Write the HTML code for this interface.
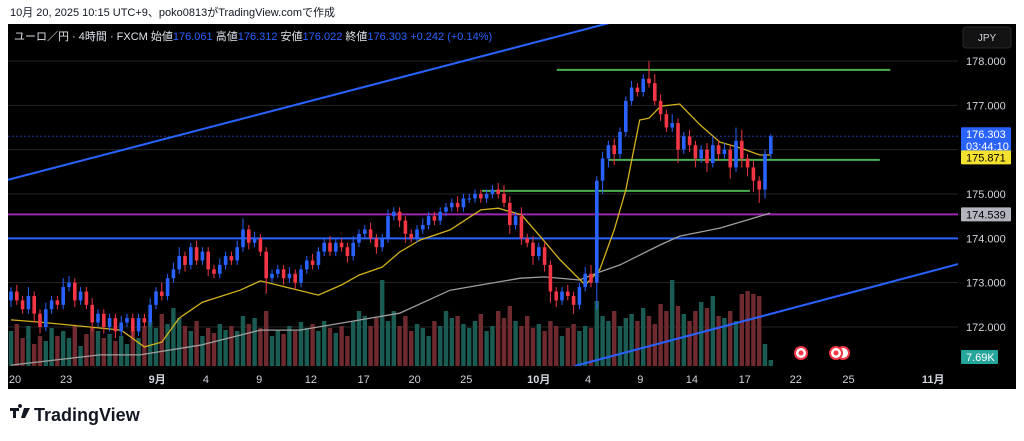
<!DOCTYPE html>
<html><head><meta charset="utf-8">
<style>
html,body{margin:0;padding:0;background:#fff;width:1024px;height:441px;overflow:hidden;font-family:"Liberation Sans","Noto Sans CJK JP",sans-serif}
svg text{font-family:"Liberation Sans","Noto Sans CJK JP",sans-serif}
</style></head><body>
<svg id="chart" width="1024" height="441" xmlns="http://www.w3.org/2000/svg">
<text x="10" y="16" font-size="11" fill="#131722">10月 20, 2025 10:15 UTC+9、poko0813がTradingView.comで作成</text>
<rect x="8" y="24" width="1008" height="365" fill="#000"/>
<g id="grid"></g>
<g id="plot" clip-path="url(#clip)"></g>
<defs><clipPath id="clip"><rect x="8" y="24" width="950" height="342"/></clipPath></defs>
<g>
<text x="14" y="40" font-size="11"><tspan fill="#e0e3eb">ユーロ／円 · 4時間 · FXCM  始値</tspan><tspan fill="#2962ff">176.061</tspan><tspan fill="#e0e3eb">  高値</tspan><tspan fill="#2962ff">176.312</tspan><tspan fill="#e0e3eb">  安値</tspan><tspan fill="#2962ff">176.022</tspan><tspan fill="#e0e3eb">  終値</tspan><tspan fill="#2962ff">176.303  +0.242 (+0.14%)</tspan></text>
</g>
<g><rect x="963" y="27" width="48" height="21" rx="3" fill="#131313" stroke="#2a2a2a"/><text x="987" y="41" font-size="10" fill="#d1d4dc" text-anchor="middle">JPY</text></g>
<g id="axes"></g>
<g>
<circle cx="801" cy="353" r="6" fill="#fff" stroke="#f23645" stroke-width="2"/><circle cx="801" cy="353" r="2.5" fill="#f23645"/>
<circle cx="843" cy="353" r="6" fill="#fff" stroke="#f23645" stroke-width="2"/>
<circle cx="836" cy="353" r="6" fill="#fff" stroke="#f23645" stroke-width="2"/><circle cx="836" cy="353" r="2.5" fill="#f23645"/>
</g>
<g>
<path d="M10 408h9v3h-3v7h-3v-7h-3z M20 408a2 2 0 1 1 0.01 0z M24 408h6l-5 10h-4z" fill="#131722"/>
<text x="34" y="421" font-size="18" font-weight="bold" fill="#131722">TradingView</text>
</g>
</svg>
<script>
const closes=[172.8,172.6,172.4,172.7,172.3,172.0,172.4,172.6,172.5,172.9,173.0,172.6,172.8,172.5,172.1,172.3,172.0,172.2,171.9,172.1,172.2,171.9,172.2,172.1,172.5,172.8,172.7,173.1,173.3,173.6,173.4,173.8,173.5,173.7,173.3,173.2,173.4,173.6,173.5,173.8,174.2,173.9,174.0,173.7,173.1,173.2,173.3,173.1,173.2,173.0,173.3,173.5,173.4,173.7,173.9,173.7,173.9,173.8,173.6,173.9,174.1,174.2,174.0,173.8,174.0,174.5,174.6,174.4,174.1,174.0,174.2,174.3,174.5,174.4,174.6,174.7,174.8,174.7,174.9,174.9,175.0,174.9,175.0,175.1,175.0,174.8,174.3,174.5,174.0,173.9,173.6,173.8,173.4,172.8,172.6,172.8,172.7,172.5,172.9,173.2,173.0,175.3,175.8,176.1,175.9,176.4,177.1,177.4,177.3,177.6,177.5,177.1,176.8,176.5,176.6,176.0,176.3,176.1,175.8,176.0,175.7,176.1,175.9,176.0,175.6,176.2,175.8,175.6,175.3,175.1,175.9,176.3];
const firstOpen=172.6;
const wickUp=[.1,.15,.1,.2,.1,.1,.15,.1,.1,.2,.15,.1,.1,.1,.15,.1,.1,.1,.1,.15,.1,.1,.1,.1,.15,.1,.2,.1,.15,.2,.1,.1,.15,.1,.1,.1,.15,.1,.1,.15,.25,.1,.15,.1,.1,.1,.1,.1,.15,.1,.1,.1,.15,.1,.1,.15,.1,.1,.1,.15,.1,.1,.15,.1,.1,.15,.1,.1,.1,.1,.1,.15,.1,.1,.1,.1,.1,.15,.1,.1,.1,.1,.1,.1,.15,.2,.15,.1,.2,.1,.15,.1,.1,.1,.1,.1,.15,.1,.1,.15,.2,.1,.15,.1,.15,.1,.1,.15,.1,.1,.4,.2,.15,.1,.2,.1,.1,.15,.1,.1,.15,.2,.1,.15,.1,.3,.25,.1,.15,.1,.1,.05];
const wickDn=[.15,.1,.1,.1,.2,.15,.1,.1,.1,.1,.1,.15,.1,.1,.2,.1,.15,.1,.15,.1,.1,.15,.1,.1,.1,.1,.1,.1,.1,.1,.15,.1,.1,.1,.15,.1,.1,.1,.1,.1,.1,.15,.1,.1,.35,.1,.1,.15,.1,.15,.1,.1,.1,.1,.1,.1,.1,.1,.15,.1,.1,.1,.1,.15,.1,.1,.1,.15,.2,.1,.1,.1,.1,.1,.1,.1,.1,.1,.1,.1,.1,.1,.1,.1,.1,.1,.2,.1,.15,.1,.2,.1,.15,.25,.15,.1,.1,.2,.1,.1,.1,.6,.3,.2,.25,.1,.1,.1,.1,.1,.1,.1,.15,.1,.1,.3,.1,.15,.2,.1,.2,.1,.15,.1,.25,.1,.2,.2,.25,.3,.2,.1];
const volumes=[35,42,28,40,22,30,25,38,30,35,28,40,20,32,38,35,28,32,25,30,22,36,28,40,45,38,52,42,58,48,40,35,45,30,38,33,42,36,40,35,50,42,48,38,55,30,36,32,40,35,44,38,42,35,45,38,33,40,30,45,55,50,40,48,86,45,55,40,50,35,42,38,30,45,40,55,48,50,42,38,45,52,35,40,55,48,60,45,40,50,38,42,35,45,40,30,38,42,35,40,38,65,50,45,55,40,48,52,45,58,50,42,62,55,86,60,52,45,55,64,58,70,50,48,55,45,72,75,72,70,22,6];
const maFastIdx=[0,5,12,19,23,26,29,33,39.5,43,48,53,57,60,64,67,70.5,75.7,81,84,88,91,94.7,99,101.5,104,106,108.4,110,112,115.3,118.8,122.2,125.7,129.1,130.9];
const maFastVal=[172.16,172.11,172.02,171.93,171.55,171.66,172.20,172.56,172.83,173.04,172.88,172.72,172.95,173.17,173.35,173.69,173.96,174.19,174.64,174.68,174.53,174.08,173.51,172.95,173.29,174.19,175.09,176.67,176.71,176.98,177.03,176.56,176.17,176.04,175.88,175.88];
const maSlowIdx=[0,15.3,22.2,32.6,43,49.8,62,67,75.7,87.8,92,98,101.5,105,111.9,115.3,122.2,129.1,130.9];
const maSlowVal=[171.14,171.37,171.37,171.59,171.93,171.93,172.20,172.31,172.83,173.10,173.13,173.06,173.24,173.40,173.85,174.05,174.23,174.50,174.57];
const priceTicks=[172,173,174,175,176,177,178];
const priceTickLabels=["172.000","173.000","174.000","175.000","176.000","177.000","178.000"];
const dateTickIdx=[0.7,9.5,25.2,33.6,42.8,51.7,60.8,69.6,78.5,91,99.5,108.5,117.4,126.5,135.3,144.4,159];
const dateTickLabels=["20","23","9月","4","9","12","17","20","25","10月","4","9","14","17","22","25","11月"];

const NS="http://www.w3.org/2000/svg";
const X=i=>11+i*5.8;
const Y=p=>61+(178-p)*44.33;
function mk(tag,attrs,parent){const e=document.createElementNS(NS,tag);for(const k in attrs)e.setAttribute(k,attrs[k]);parent.appendChild(e);return e;}
const grid=document.getElementById('grid'),plot=document.getElementById('plot'),axes=document.getElementById('axes');

priceTicks.forEach((p,k)=>{
  const g=mk('line',{x1:8,x2:958,y1:Y(p),y2:Y(p),stroke:'#262626','stroke-width':1},grid);
  
  
  const t=mk('text',{x:966,y:Y(p)+4,'font-size':11,fill:'#d1d4dc'},axes);
  t.textContent=priceTickLabels[k];
  
  
});
dateTickIdx.forEach((i,k)=>{
  const t=mk('text',{x:X(i),y:383,'font-size':11,fill:'#d1d4dc','text-anchor':'middle','font-weight':dateTickLabels[k].includes('月')?'bold':'normal'},axes);
  t.textContent=dateTickLabels[k];
  
  
});

const opens=closes.map((c,i)=>i===0?firstOpen:closes[i-1]);
volumes.forEach((v,i)=>{
  const up=closes[i]>=opens[i];
  const r=mk('rect',{x:X(i)-2.2,y:366-v,width:4.4,height:v,fill:up?'#1a5c54':'#6e2a2e'},plot);
  
  
});
function hline(p,i1,i2,color,w,name,dash){
  const l=mk('line',{x1:i1===null?8:X(i1),x2:i2===null?958:X(i2),y1:Y(p),y2:Y(p),stroke:color,'stroke-width':w},plot);
  if(dash)l.setAttribute('stroke-dasharray',dash);
  
  
}
hline(176.303,null,null,'#1e3a8a',1,'last-price-line','2 2');
hline(174.539,null,null,'#9c27b0',2,'purple-level');
hline(174.0,null,null,'#2962ff',2,'blue-level');
hline(177.8,94.1,151.6,'#4caf50',2,'resistance-line');
hline(175.77,103.1,149.8,'#4caf50',2,'mid-support-line');
hline(175.07,81.2,127.4,'#4caf50',2,'support-line');
const tl1=mk('line',{x1:X(-0.5),y1:Y(175.32),x2:X(105),y2:Y(178.92),stroke:'#2962ff','stroke-width':2},plot);


const tl2=mk('line',{x1:X(97.2),y1:Y(171.12),x2:X(163.3),y2:Y(173.42),stroke:'#2962ff','stroke-width':2},plot);


function path(idx,val,color,name){
  const d=idx.map((i,k)=>(k?'L':'M')+X(i).toFixed(1)+' '+Y(val[k]).toFixed(1)).join(' ');
  const p=mk('path',{d:d,fill:'none',stroke:color,'stroke-width':1.3},plot);
  
  
}
path(maSlowIdx,maSlowVal,'#9e9e9e','slow-moving-average');
path(maFastIdx,maFastVal,'#d4b21c','fast-moving-average');
closes.forEach((c,i)=>{
  const o=opens[i],up=c>=o,col=up?'#2962ff':'#f23645';
  const hi=Math.max(o,c)+(wickUp[i]||0.1),lo=Math.min(o,c)-(wickDn[i]||0.1);
  const w=mk('line',{x1:X(i),x2:X(i),y1:Y(hi),y2:Y(lo),stroke:col,'stroke-width':1},plot);
  
  
  const top=Y(Math.max(o,c)),h=Math.max(1,Math.abs(Y(o)-Y(c)));
  const b=mk('rect',{x:X(i)-1.8,y:top,width:3.6,height:h,fill:col},plot);
  
  
});
function badge(y,h,bg,fg,lines,name,w){
  const g=mk('g',{},axes);
  
  
  mk('rect',{x:961,y:y,width:w||50,height:h,fill:bg,rx:1},g);
  lines.forEach((s,k)=>{const t=mk('text',{x:966,y:y+11+k*12,'font-size':11,fill:fg},g);t.textContent=s;});
}
badge(Y(176.303)-9,26,'#2962ff','#fff',['176.303','03:44:10'],'last-price-badge');
badge(Y(175.871)-5,14,'#f5e130','#000',['175.871'],'ma-value-badge');
badge(Y(174.539)-7,14,'#b2b5be','#000',['174.539'],'level-badge');
badge(350,14,'#26a69a','#fff',['7.69K'],'volume-badge',37);
</script>
</body></html>
